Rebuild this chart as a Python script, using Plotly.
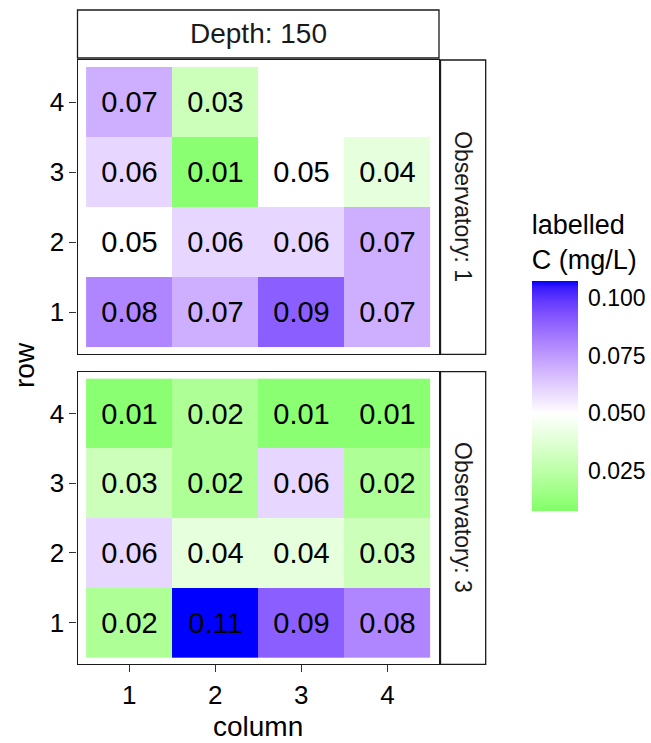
import numpy as np
import plotly.graph_objects as go

# ---- data -------------------------------------------------------------
columns = [1, 2, 3, 4]
rows = [1, 2, 3, 4]
depth_label = "Depth: 150"
panel_labels = ["Observatory: 1", "Observatory: 3"]

# labelled C (mg/L); each list runs over row 1..4, inner lists over columns 1..4
obs1_values = [
    [0.08, 0.07, 0.09, 0.07],
    [0.05, 0.06, 0.06, 0.07],
    [0.06, 0.01, 0.05, 0.04],
    [0.07, 0.03, None, None],
]
obs3_values = [
    [0.02, 0.11, 0.09, 0.08],
    [0.06, 0.04, 0.04, 0.03],
    [0.03, 0.02, 0.06, 0.02],
    [0.01, 0.02, 0.01, 0.01],
]
legend_ticks = [0.025, 0.050, 0.075, 0.100]
legend_tick_text = ["0.025", "0.050", "0.075", "0.100"]
z_min, z_mid, z_max = 0.0076, 0.05, 0.1075

# ---- diverging palette (green - white - blue) interpolated in Lab -----
def srgb_to_lab(rgb):
    c = np.asarray(rgb, float) / 255.0
    c = np.where(c > 0.04045, ((c + 0.055) / 1.055) ** 2.4, c / 12.92)
    m = np.array([[0.4124564, 0.3575761, 0.1804375],
                  [0.2126729, 0.7151522, 0.0721750],
                  [0.0193339, 0.1191920, 0.9503041]])
    xyz = m @ c / np.array([0.95047, 1.0, 1.08883])
    f = np.where(xyz > 216 / 24389, np.cbrt(xyz), (24389 / 27 * xyz + 16) / 116)
    return np.array([116 * f[1] - 16, 500 * (f[0] - f[1]), 200 * (f[1] - f[2])])


def lab_to_srgb(lab):
    L, a, b = lab
    fy = (L + 16) / 116
    fx = fy + a / 500
    fz = fy - b / 200
    f = np.array([fx, fy, fz])
    xyz = np.where(f ** 3 > 216 / 24389, f ** 3, (116 * f - 16) / (24389 / 27))
    xyz = xyz * np.array([0.95047, 1.0, 1.08883])
    m = np.array([[3.2404542, -1.5371385, -0.4985314],
                  [-0.9692660, 1.8760108, 0.0415560],
                  [0.0556434, -0.2040259, 1.0572252]])
    c = m @ xyz
    c = np.clip(c, 0, 1)
    c = np.where(c > 0.0031308, 1.055 * c ** (1 / 2.4) - 0.055, 12.92 * c)
    return tuple(int(round(v * 255)) for v in np.clip(c, 0, 1))


low_lab = srgb_to_lab((0, 255, 0))
mid_lab = srgb_to_lab((255, 255, 255))
high_lab = srgb_to_lab((0, 0, 255))
half_span = max(abs(z_max - z_mid), abs(z_min - z_mid))


def palette(t):
    if t <= 0.5:
        s = t / 0.5
        lab = low_lab + (mid_lab - low_lab) * s
    else:
        s = (t - 0.5) / 0.5
        lab = mid_lab + (high_lab - mid_lab) * s
    return "rgb(%d,%d,%d)" % lab_to_srgb(lab)


colorscale = []
for z in np.linspace(z_min, z_max, 41):
    t = (z - z_mid) / half_span / 2 + 0.5
    pos = (z - z_min) / (z_max - z_min)
    colorscale.append([float(pos), palette(float(t))])

# ---- layout geometry (pixels -> paper) ---------------------------------
W, H = 651, 743
px = lambda x: x / W
py = lambda y: (H - y) / H

x_dom = [px(77.5), px(439)]
y_dom_top = [py(354.3), py(60)]
y_dom_bot = [py(664.3), py(371.7)]

# colour bar box (pixels)
cb_left, cb_right, cb_top_px, cb_bot_px = 531.7, 577.7, 280, 511
cb_title_top = 211

FONT = "Liberation Sans, Arial, sans-serif"


def labels(values):
    return [["" if v is None else "%.2f" % v for v in r] for r in values]


def zvals(values):
    return [[np.nan if v is None else v for v in r] for r in values]


fig = go.Figure()
for i, (vals, xa, ya) in enumerate([(obs1_values, "x", "y"), (obs3_values, "x2", "y2")]):
    fig.add_trace(go.Heatmap(
        x=columns, y=rows, z=zvals(vals), text=labels(vals),
        texttemplate="%{text}",
        textfont=dict(family=FONT, size=29, color="black"),
        colorscale=colorscale, zmin=z_min, zmax=z_max,
        xaxis=xa, yaxis=ya, showscale=(i == 0), hoverongaps=False,
        colorbar=dict(
            x=px(cb_left), xanchor="left", y=py(cb_title_top), yanchor="top",
            len=cb_bot_px - cb_title_top, lenmode="pixels",
            thickness=cb_right - cb_left, thicknessmode="pixels",
            outlinewidth=0, xpad=0, ypad=0,
            tickvals=legend_ticks, ticktext=legend_tick_text,
            ticks="outside", ticklen=6, tickcolor="rgba(0,0,0,0)", tickwidth=1,
            tickfont=dict(family=FONT, size=23, color="black"),
            title=dict(text="labelled<br>C (mg/L)", side="top",
                       font=dict(family=FONT, size=27, color="black")),
        ),
    ))

axis_common = dict(range=[0.4, 4.6], showgrid=False, zeroline=False,
                   showline=True, mirror=True, linecolor="#1a1a1a", linewidth=1.3,
                   tickvals=[1, 2, 3, 4], tickfont=dict(family=FONT, size=26, color="black"),
                   ticks="outside", ticklen=7, tickcolor="#333333", tickwidth=1.3)

fig.update_layout(
    width=W, height=H, margin=dict(l=0, r=0, t=0, b=0, autoexpand=False),
    paper_bgcolor="white", plot_bgcolor="white",
    xaxis=dict(axis_common, domain=x_dom, anchor="y", showticklabels=False, ticks=""),
    yaxis=dict(axis_common, domain=y_dom_top, anchor="x"),
    xaxis2=dict(axis_common, domain=x_dom, anchor="y2"),
    yaxis2=dict(axis_common, domain=y_dom_bot, anchor="x2"),
    font=dict(family=FONT),
)

# facet strips
strip_line = dict(color="#1a1a1a", width=1.3)
fig.add_shape(type="rect", xref="paper", yref="paper",
              x0=x_dom[0], x1=x_dom[1], y0=py(58), y1=py(10),
              line=strip_line, fillcolor="white")
fig.add_annotation(text=depth_label, xref="paper", yref="paper",
                   x=(x_dom[0] + x_dom[1]) / 2, y=py(34), showarrow=False,
                   xanchor="center", yanchor="middle",
                   font=dict(family=FONT, size=28, color="#1a1a1a"))
for dom, lab in [(y_dom_top, panel_labels[0]), (y_dom_bot, panel_labels[1])]:
    fig.add_shape(type="rect", xref="paper", yref="paper",
                  x0=px(440.5), x1=px(485.7), y0=dom[0], y1=dom[1],
                  line=strip_line, fillcolor="white")
    fig.add_annotation(text=lab, xref="paper", yref="paper",
                       x=px(463), y=(dom[0] + dom[1]) / 2, showarrow=False,
                       xanchor="center", yanchor="middle",
                       textangle=90, font=dict(family=FONT, size=23, color="#1a1a1a"))

# axis titles
fig.add_annotation(text="row", xref="paper", yref="paper", x=px(24), y=py(365),
                   showarrow=False, textangle=-90, xanchor="center", yanchor="middle",
                   font=dict(family=FONT, size=28, color="black"))
fig.add_annotation(text="column", xref="paper", yref="paper",
                   x=(x_dom[0] + x_dom[1]) / 2, y=py(726), showarrow=False,
                   xanchor="center", yanchor="middle",
                   font=dict(family=FONT, size=28, color="black"))

# white tick marks on both edges of the colour bar
cb_bottom, cb_top = py(cb_bot_px), py(cb_top_px)
for v in legend_ticks:
    yy = cb_bottom + (v - z_min) / (z_max - z_min) * (cb_top - cb_bottom)
    for x0, x1 in [(cb_left, cb_left + 9), (cb_right - 9, cb_right)]:
        fig.add_shape(type="line", xref="paper", yref="paper",
                      x0=px(x0), x1=px(x1), y0=yy, y1=yy,
                      line=dict(color="white", width=1))

fig.write_html("out.html")
